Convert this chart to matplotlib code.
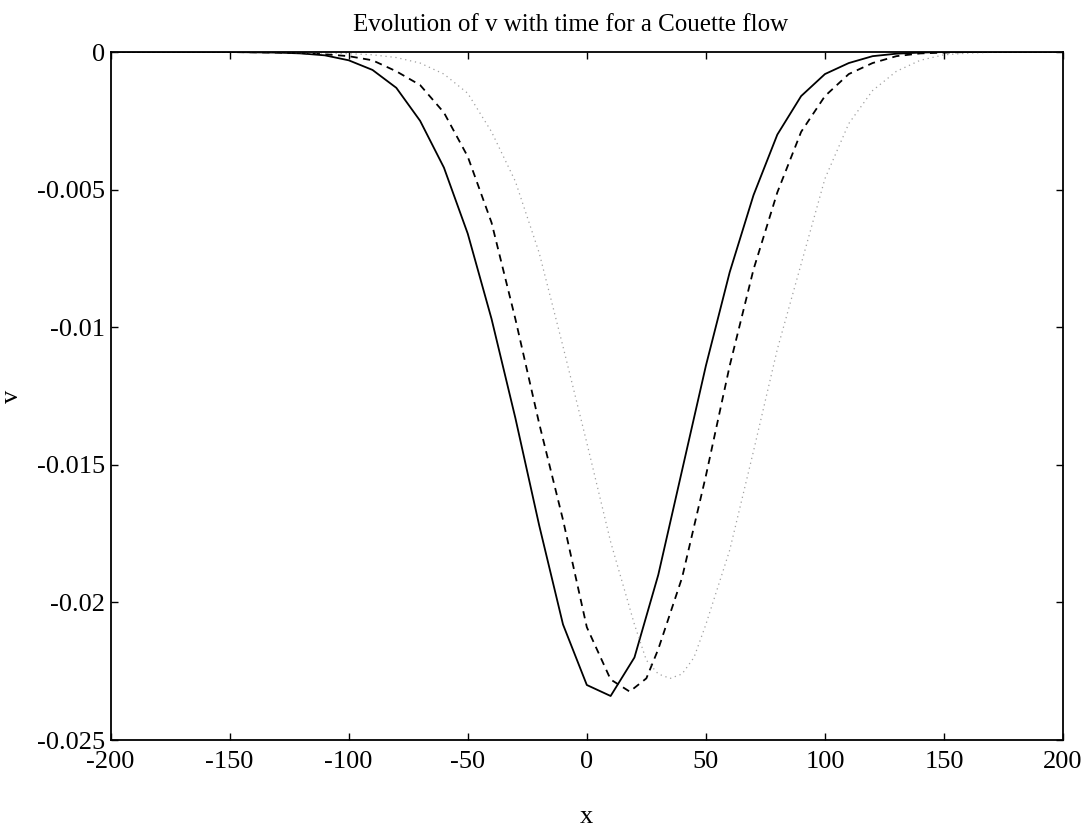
import matplotlib
matplotlib.use("Agg")
import matplotlib.pyplot as plt
from matplotlib.ticker import FixedLocator, FixedFormatter

# ---- data ----
x_solid = [-200, -190, -180, -170, -160, -150, -140, -130, -120, -110, -100, -90, -80, -70,
           -60, -50, -40, -30, -20, -10, 0, 10, 20, 30, 40, 50, 60, 70, 80, 90, 100,
           110, 120, 130, 140, 150, 160, 170, 180, 190, 200]
v_solid = [0, 0, 0, 0, 0, 0, -0.00001, -0.00002, -0.00005, -0.00012, -0.0003, -0.00065, -0.0013, -0.0025,
           -0.0042, -0.0066, -0.0097, -0.0133, -0.0172, -0.0208, -0.0230, -0.0234, -0.0220, -0.0190,
           -0.0152, -0.0114, -0.0080, -0.0052, -0.0030, -0.0016, -0.0008,
           -0.0004, -0.00015, -0.00006, -0.00002, 0, 0, 0, 0, 0, 0]

x_dashed = [-200, -190, -180, -170, -160, -150, -140, -130, -120, -110, -100, -90, -80, -70,
            -60, -50, -40, -30, -20, -10, 0, 10, 18, 25, 30, 40, 50, 60, 70, 80, 90, 100,
            110, 120, 130, 140, 150, 160, 170, 180, 190, 200]
v_dashed = [0, 0, 0, 0, 0, 0, -0.00001, -0.00002, -0.00004, -0.00008, -0.00015, -0.0003, -0.0007, -0.0012,
            -0.0022, -0.0038, -0.0062, -0.0097, -0.0135, -0.0170, -0.0209, -0.0228, -0.02324, -0.02276,
            -0.0217, -0.0191, -0.0154, -0.0114, -0.0079, -0.0051, -0.0029, -0.0016,
            -0.0008, -0.0004, -0.00015, -0.00005, -0.00002, 0, 0, 0, 0, 0]

x_dotted = [-200, -190, -180, -170, -160, -150, -140, -130, -120, -110, -100, -90, -80, -70,
            -60, -50, -40, -30, -20, -10, 0, 10, 20, 25, 30, 35, 40, 45, 50, 60, 70, 80, 90, 100,
            110, 120, 130, 140, 150, 160, 170, 180, 190, 200]
v_dotted = [0, 0, 0, 0, 0, 0, 0, -0.00001, -0.00002, -0.00004, -0.00006, -0.0001, -0.0002, -0.0004,
            -0.0008, -0.0015, -0.0029, -0.0047, -0.0073, -0.0107, -0.0142, -0.0178, -0.0208, -0.0221,
            -0.0226, -0.02276, -0.0226, -0.0220, -0.0208, -0.0181, -0.0145, -0.0108, -0.0077, -0.0046,
            -0.0026, -0.0014, -0.0007, -0.0003, -0.0001, -0.00004, -0.00001, 0, 0, 0]

x_ticks = [-200, -150, -100, -50, 0, 50, 100, 150, 200]
x_tick_labels = ["-200", "-150", "-100", "-50", "0", "50", "100", "150", "200"]
y_ticks = [0, -0.005, -0.01, -0.015, -0.02, -0.025]
y_tick_labels = ["0", "-0.005", "-0.01", "-0.015", "-0.02", "-0.025"]

title = "Evolution of v with time for a Couette flow"
xlabel = "x"
ylabel = "v"

# ---- drawing ----
plt.rcParams['font.family'] = ['Liberation Serif', 'DejaVu Serif']

fig = plt.figure(figsize=(10.87, 8.30), dpi=100)
ax = fig.add_axes([0.1017, 0.1084, 0.8763, 0.8289])

ax.plot(x_solid, v_solid, color='black', linewidth=1.3, linestyle='-')
ax.plot(x_dashed, v_dashed, color='black', linewidth=1.3, linestyle=(0, (4, 3)))
ax.plot(x_dotted, v_dotted, color='#a0a0a0', linewidth=0.9, linestyle=(0, (1, 3)))

ax.set_xlim(-200, 200)
ax.set_ylim(-0.025, 0)

ax.xaxis.set_major_locator(FixedLocator(x_ticks))
ax.xaxis.set_major_formatter(FixedFormatter(x_tick_labels))
ax.yaxis.set_major_locator(FixedLocator(y_ticks))
ax.yaxis.set_major_formatter(FixedFormatter(y_tick_labels))

ax.tick_params(direction='in', length=5, width=1.0, top=True, right=True,
               labelsize=19, colors='black')
ax.tick_params(axis='x', pad=8)
ax.tick_params(axis='y', pad=4)
for s in ax.spines.values():
    s.set_linewidth(1.3)

ax.set_title(title, fontsize=18, pad=15, x=0.4825)
ax.set_xlabel(xlabel, fontsize=19, labelpad=24)
ax.set_ylabel(ylabel, fontsize=19, labelpad=10)

fig.savefig("out.png", dpi=100)
